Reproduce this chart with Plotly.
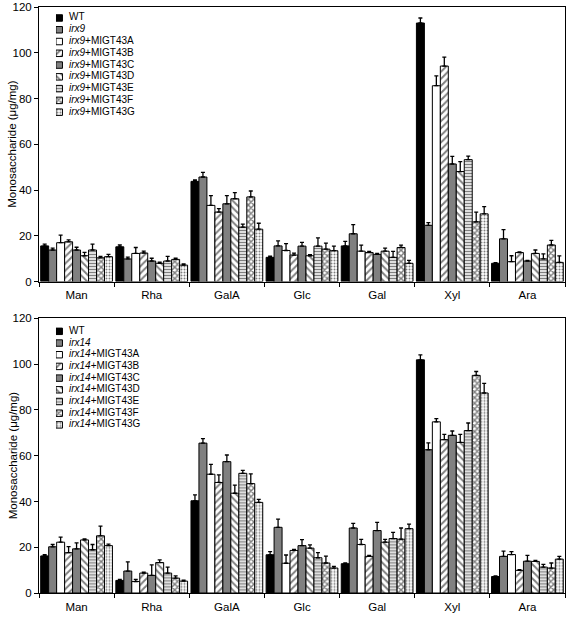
import plotly.graph_objects as go
from plotly.subplots import make_subplots

sugars = ["Man", "Rha", "GalA", "Glc", "Gal", "Xyl", "Ara"]
suffixes = ["WT", "", "+MIGT43A", "+MIGT43B", "+MIGT43C", "+MIGT43D", "+MIGT43E", "+MIGT43F", "+MIGT43G"]
y_title = "Monosaccharide (μg/mg)"
y_ticks = [0, 20, 40, 60, 80, 100, 120]

# Top panel: irx9 background
irx9_vals = [
    [15.6, 15.2, 43.8, 10.6, 15.6, 113.0, 8.0],   # WT
    [13.8, 9.9, 45.7, 15.6, 20.9, 24.6, 18.7],    # irx9
    [17.0, 12.3, 33.3, 13.6, 13.3, 85.6, 8.7],    # A
    [17.4, 12.5, 30.4, 11.6, 12.7, 94.2, 12.7],   # B
    [13.8, 9.0, 34.0, 15.5, 11.9, 51.4, 9.0],     # C
    [11.3, 8.0, 36.2, 11.3, 13.3, 48.1, 12.3],    # D
    [13.8, 9.0, 23.8, 15.5, 10.6, 53.3, 9.9],     # E
    [10.4, 9.7, 37.0, 14.2, 14.9, 26.1, 16.0],    # F
    [10.9, 7.2, 22.9, 13.5, 8.0, 29.6, 8.4],      # G
]
irx9_err = [
    [0.8, 0.8, 0.6, 0.5, 2.0, 2.2, 0.3],
    [0.8, 0.8, 2.0, 2.2, 4.0, 1.2, 4.0],
    [3.3, 2.6, 4.3, 3.0, 2.6, 4.3, 2.6],
    [0.8, 0.8, 1.5, 0.8, 0.5, 3.9, 0.3],
    [1.2, 1.2, 3.6, 1.6, 0.4, 3.3, 0.3],
    [1.5, 0.5, 2.7, 0.5, 1.3, 4.3, 1.5],
    [2.6, 2.0, 1.3, 3.6, 2.6, 1.5, 2.2],
    [0.6, 0.5, 2.6, 2.6, 1.0, 4.3, 2.0],
    [1.0, 0.5, 2.6, 2.0, 1.3, 3.2, 2.8],
]

# Bottom panel: irx14 background
irx14_vals = [
    [16.2, 5.5, 40.3, 16.7, 12.8, 101.9, 7.2],    # WT
    [20.2, 9.6, 65.5, 28.7, 28.4, 62.6, 16.0],    # irx14
    [22.2, 5.0, 51.9, 13.0, 21.2, 74.8, 16.8],    # A
    [17.6, 8.7, 48.3, 18.6, 16.0, 67.0, 9.9],     # B
    [19.3, 7.7, 57.4, 20.7, 27.3, 68.9, 13.9],    # C
    [23.2, 13.3, 43.6, 19.6, 22.2, 65.8, 13.8],   # D
    [18.9, 8.7, 52.3, 15.4, 23.8, 71.0, 11.3],    # E
    [25.0, 6.5, 47.8, 13.1, 23.5, 95.1, 10.9],    # F
    [20.7, 5.2, 39.6, 10.9, 28.1, 87.4, 14.8],    # G
]
irx14_err = [
    [0.6, 0.4, 2.6, 1.4, 0.4, 2.2, 0.3],
    [1.0, 4.0, 2.0, 3.6, 2.0, 3.0, 2.3],
    [2.2, 0.9, 4.3, 3.6, 2.2, 1.4, 1.3],
    [2.7, 0.4, 3.3, 0.5, 0.4, 2.3, 0.3],
    [2.6, 4.6, 2.9, 2.6, 3.6, 1.9, 2.5],
    [0.4, 1.2, 3.5, 1.4, 1.2, 3.5, 0.4],
    [2.3, 2.6, 1.3, 2.2, 2.7, 3.3, 1.2],
    [4.2, 1.0, 4.3, 3.0, 4.9, 1.7, 2.2],
    [0.7, 0.4, 1.3, 0.7, 2.0, 4.2, 1.2],
]

styles = [
    dict(color="black", pattern=None),
    dict(color="#808080", pattern=None),
    dict(color="white", pattern=None),
    dict(color="white", pattern=dict(shape="/", fgcolor="black", size=5, solidity=0.4)),
    dict(color="#808080", pattern=None),
    dict(color="white", pattern=dict(shape="\\", fgcolor="black", size=5, solidity=0.4)),
    dict(color="white", pattern=dict(shape="-", fgcolor="black", size=3, solidity=0.5)),
    dict(color="white", pattern=dict(shape="x", fgcolor="black", size=4, solidity=0.6)),
    dict(color="white", pattern=dict(shape=".", fgcolor="black", size=3, solidity=0.35)),
]

FONT = "Liberation Sans, Arial, sans-serif"

fig = make_subplots(rows=2, cols=1)


def label(mut, i):
    if i == 0:
        return "WT"
    return "<i>%s</i>%s" % (mut, suffixes[i])


def make_marker(i):
    st = styles[i]
    marker = dict(color=st["color"], line=dict(color="black", width=1))
    if st["pattern"] is not None:
        marker["pattern"] = st["pattern"]
    return marker


panels = [("irx9", irx9_vals, irx9_err), ("irx14", irx14_vals, irx14_err)]

for row, (mut, vals, errs) in enumerate(panels, start=1):
    for i in range(9):
        fig.add_trace(go.Bar(
            x=sugars, y=vals[i], name=label(mut, i), showlegend=False,
            marker=make_marker(i),
            error_y=dict(type="data", symmetric=False, array=errs[i],
                         arrayminus=[0] * 7, color="black", thickness=1.3, width=2),
        ), row=row, col=1)

# Compact legends drawn on hidden helper axes (x3/y3 for top, x4/y4 for bottom)
legend_axes = [("x3", "y3"), ("x4", "y4")]
for (mut, vals, errs), (xa, ya) in zip(panels, legend_axes):
    idx = list(range(9))
    for i in idx:
        fig.add_trace(go.Bar(
            x=[1], y=[i], orientation="h", width=0.55, showlegend=False,
            marker=make_marker(i), xaxis=xa, yaxis=ya, hoverinfo="skip",
        ))
    fig.add_trace(go.Scatter(
        x=[2.0] * 9, y=idx, mode="text", text=[label(mut, i) for i in idx],
        textposition="middle right", textfont=dict(size=10, family=FONT, color="black"),
        showlegend=False, xaxis=xa, yaxis=ya, hoverinfo="skip",
    ))

fig.update_layout(
    width=567, height=617,
    margin=dict(l=39, r=1, t=4, b=24),
    paper_bgcolor="white", plot_bgcolor="white",
    barmode="group", bargap=0.045, bargroupgap=0.0,
    font=dict(family=FONT, size=11, color="black"),
    showlegend=False,
    xaxis3=dict(domain=[0.03226, 0.03226 + 120 / 527], range=[0, 120 / 6.5], anchor="y3",
                visible=False, fixedrange=True),
    yaxis3=dict(domain=[0.8105, 0.9913], range=[8.5, -0.5], anchor="x3",
                visible=False, fixedrange=True),
    xaxis4=dict(domain=[0.03226, 0.03226 + 120 / 527], range=[0, 120 / 6.5], anchor="y4",
                visible=False, fixedrange=True),
    yaxis4=dict(domain=[0.2769, 0.4565], range=[8.5, -0.5], anchor="x4",
                visible=False, fixedrange=True),
)

for r in (1, 2):
    fig.update_xaxes(row=r, col=1, showline=True, linecolor="black", linewidth=1, mirror=True,
                     ticks="outside", tickson="boundaries", ticklen=4, tickcolor="black",
                     tickfont=dict(size=11.5), showgrid=False, ticklabelstandoff=3)
    fig.update_yaxes(row=r, col=1, range=[0, 120], tickvals=y_ticks, showline=True,
                     linecolor="black", linewidth=1, mirror=True, ticks="outside", ticklen=4,
                     tickcolor="black", showgrid=False, zeroline=False,
                     tickfont=dict(size=11.5))

fig.update_yaxes(domain=[0.5314, 1.0], row=1, col=1)
fig.update_yaxes(domain=[0.0, 0.4686], row=2, col=1)

# y-axis titles as rotated annotations
for yc in ((0.5314 + 1.0) / 2, 0.4686 / 2):
    fig.add_annotation(text=y_title, textangle=-90, xref="paper", yref="paper",
                       x=-26.5 / 527, y=yc, xanchor="center", yanchor="middle",
                       showarrow=False, font=dict(size=11.5, family=FONT, color="black"))

fig.write_html("out.html", config={"displayModeBar": False},
               post_script="document.body.style.margin='0px';")
